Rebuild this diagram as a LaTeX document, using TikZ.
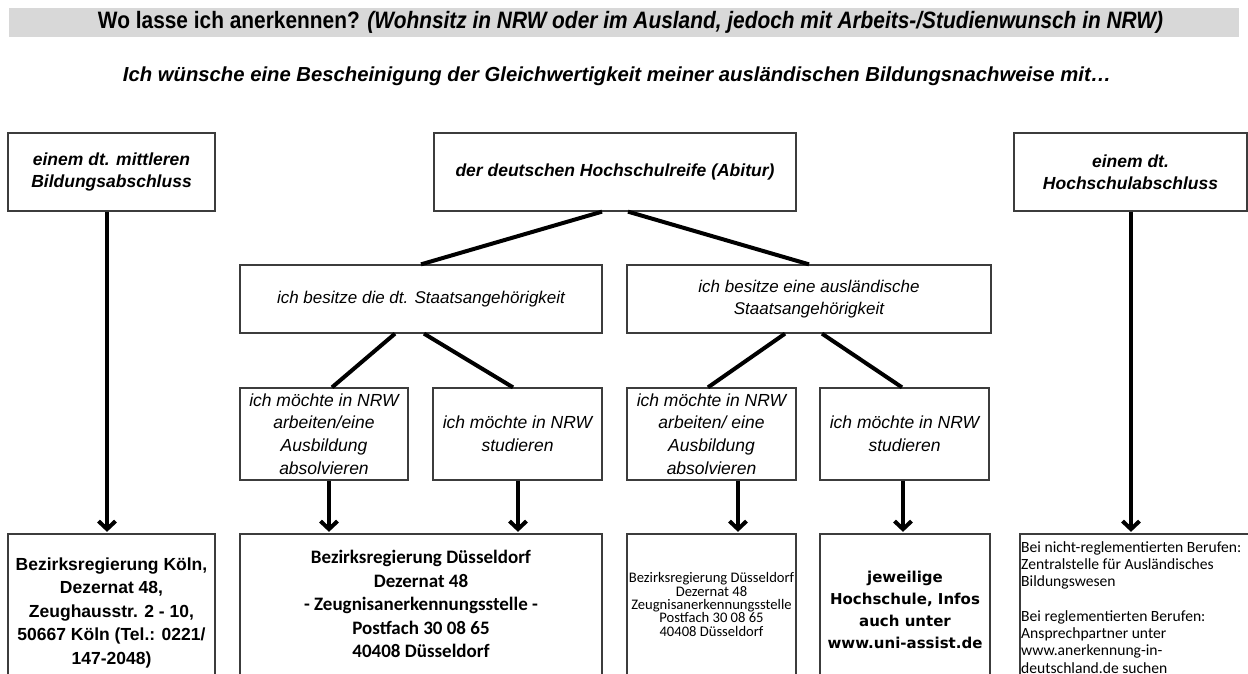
\documentclass[tikz,border=0pt]{standalone}
\usepackage{graphicx}
\usepackage{fontspec}
\setmainfont{Liberation Sans}
\newfontfamily\calib{Carlito}
\newfontfamily\dvs{DejaVu Sans}
\newfontfamily\narrowsans{Liberation Sans}[FakeStretch=0.88]
\usetikzlibrary{arrows.meta}
\definecolor{bandgray}{RGB}{216,216,216}
\definecolor{boxline}{RGB}{60,60,60}
\begin{document}
\begin{tikzpicture}[x=1pt,y=-1pt,
  box/.style={draw=boxline, line width=1.3pt, inner sep=0pt, align=center, rectangle},
  conn/.style={line width=4pt},
  arr/.style={conn, -{Straight Barb[length=8pt,width=17pt]}, shorten >=1.5pt},
  fa/.style={font=\fontsize{17.5}{21.5}\selectfont\bfseries\itshape},
  fb/.style={font=\fontsize{17}{22}\selectfont\itshape},
  fc/.style={font=\fontsize{17.5}{22.7}\selectfont\itshape}]
\useasboundingbox (0,0) rectangle (1248,674);
\clip (0,0) rectangle (1248,674);
% title band
\node[fill=bandgray, minimum width=1230pt, minimum height=29pt, inner sep=0pt] (band) at (624,22.5) {};
\node[inner sep=0pt] (title) at (630.5,22.5) {\resizebox{1065pt}{!}{\narrowsans\bfseries Wo lasse ich anerkennen? \textit{(Wohnsitz in NRW oder im Ausland, jedoch mit Arbeits-/Studienwunsch in NRW)}}};
\node[inner sep=0pt] (sub) at (617,76) {\resizebox{988pt}{!}{\bfseries\itshape Ich wünsche eine Bescheinigung der Gleichwertigkeit meiner ausländischen Bildungsnachweise mit\dots}};
% row 1
\node[box, fa, minimum width=207pt, minimum height=78pt] (tl) at (111.5,172) {einem dt. mittleren\\Bildungsabschluss};
\node[box, fa, minimum width=362pt, minimum height=78pt] (tc) at (615,172) {der deutschen Hochschulreife (Abitur)};
\node[box, fa, minimum width=233pt, minimum height=78pt] (tr) at (1130.5,172) {einem dt.\\Hochschulabschluss};
% row 2
\node[box, fb, minimum width=362pt, minimum height=68pt] (m1) at (421,299) {ich besitze die dt. Staatsangehörigkeit};
\node[box, fb, minimum width=364pt, minimum height=68pt] (m2) at (809,299) {ich besitze eine ausländische\\Staatsangehörigkeit};
% row 3
\node[box, fc, minimum width=168pt, minimum height=92pt] (r1) at (324,434) {ich möchte in NRW\\arbeiten/eine\\Ausbildung\\absolvieren};
\node[box, fc, minimum width=169pt, minimum height=92pt] (r2) at (517.5,434) {ich möchte in NRW\\studieren};
\node[box, fc, minimum width=169pt, minimum height=92pt] (r3) at (711.5,434) {ich möchte in NRW\\arbeiten/ eine\\Ausbildung\\absolvieren};
\node[box, fc, minimum width=169pt, minimum height=92pt] (r4) at (904.5,434) {ich möchte in NRW\\studieren};
% row 4 boxes
\node[box, minimum width=207pt, minimum height=166pt] (b1) at (111.5,617) {};
\node[box, minimum width=362pt, minimum height=166pt] (b2) at (421,617) {};
\node[box, minimum width=169pt, minimum height=166pt] (b3) at (711.5,617) {};
\node[box, minimum width=170pt, minimum height=166pt] (b4) at (905,617) {};
\node[box, minimum width=230pt, minimum height=166pt] (b5) at (1135,617) {};
% row 4 texts
\node[align=center, inner sep=0pt, font=\fontsize{17.5}{23.5}\selectfont\bfseries] (b1t) at (111.5,612.5) {Bezirksregierung Köln,\\Dezernat 48,\\Zeughausstr. 2 - 10,\\50667 Köln (Tel.: 0221/\\147-2048)};
\node[align=center, inner sep=0pt, font=\fontsize{19}{23.5}\selectfont\calib\bfseries] (b2t) at (421,604) {Bezirksregierung Düsseldorf\\Dezernat 48\\- Zeugnisanerkennungsstelle -\\Postfach 30 08 65\\40408 Düsseldorf};
\node[align=center, inner sep=0pt, font=\fontsize{14.6}{13.3}\selectfont\calib] (b3t) at (711.5,604.5) {Bezirksregierung Düsseldorf\\Dezernat 48\\Zeugnisanerkennungsstelle\\Postfach 30 08 65\\40408 Düsseldorf};
\node[align=center, inner sep=0pt, font=\fontsize{15}{22}\selectfont\dvs\bfseries] (b4t) at (905,609.5) {jeweilige\\Hochschule, Infos\\auch unter\\www.uni-assist.de};
\node[align=left, inner sep=0pt, anchor=north west, font=\fontsize{15.6}{17.3}\selectfont\calib] (b5t) at (1021,541) {Bei nicht-reglementierten Berufen:\\Zentralstelle für Ausländisches\\Bildungswesen\\[17.3pt]Bei reglementierten Berufen:\\Ansprechpartner unter\\www.anerkennung-in-\\deutschland.de suchen};
% connectors
\draw[conn] ([xshift=-13pt]tc.south) -- (m1.north);
\draw[conn] ([xshift=13pt]tc.south) -- (m2.north);
\draw[conn] ([xshift=-26pt]m1.south) -- ([xshift=8pt]r1.north);
\draw[conn] ([xshift=3pt]m1.south) -- ([xshift=-4.5pt]r2.north);
\draw[conn] ([xshift=-24pt]m2.south) -- ([xshift=-3.5pt]r3.north);
\draw[conn] ([xshift=13pt]m2.south) -- ([xshift=-2.5pt]r4.north);
\coordinate (a0) at ([xshift=-4.5pt]tl.south);
\coordinate (a1) at ([xshift=5pt]r1.south);
\coordinate (a2) at ([xshift=0.5pt]r2.south);
\coordinate (a3) at ([xshift=26.5pt]r3.south);
\coordinate (a4) at ([xshift=-1.5pt]r4.south);
\coordinate (a5) at ([xshift=0.5pt]tr.south);
\draw[arr] (a0) -- (a0 |- b1.north);
\draw[arr] (a1) -- (a1 |- b2.north);
\draw[arr] (a2) -- (a2 |- b2.north);
\draw[arr] (a3) -- (a3 |- b3.north);
\draw[arr] (a4) -- (a4 |- b4.north);
\draw[arr] (a5) -- (a5 |- b5.north);
\end{tikzpicture}
\end{document}
